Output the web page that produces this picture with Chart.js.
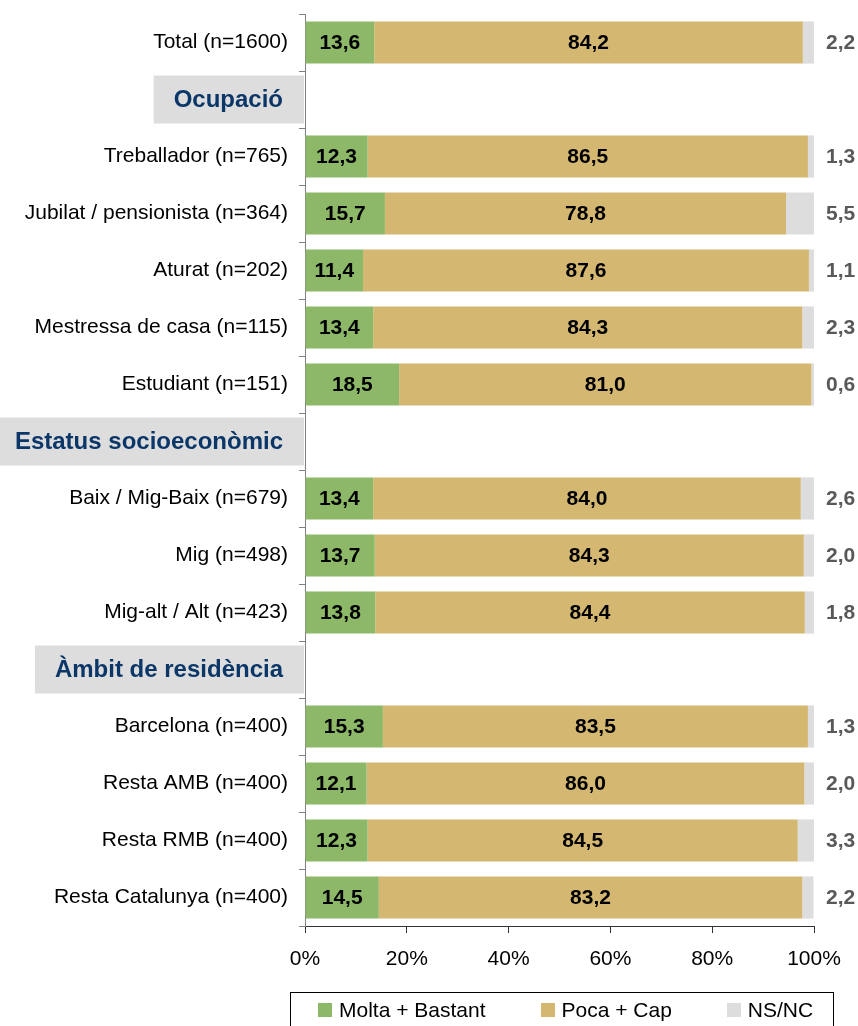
<!DOCTYPE html>
<html>
<head>
<meta charset="utf-8">
<script src="https://cdn.jsdelivr.net/npm/chart.js@4/dist/chart.umd.min.js"></script>
<style>
    body { margin: 0; background: #fff; overflow: hidden; }
    #wrap { position: relative; width: 858px; height: 1026px; }
    #legend {
        position: absolute; left: 290px; top: 992px; width: 544px; height: 40px;
        border: 1px solid #000; box-sizing: border-box;
        display: flex; align-items: center; height: 40px; padding: 0 0 4px 27px;
        font: 21px 'Liberation Sans', Arial, sans-serif; line-height: 24px; color: #000;
        white-space: nowrap;
    }
    #legend .item { display: flex; align-items: center; margin-right: 55px; flex-shrink: 0; }
    #legend .box { width: 14px; height: 14px; margin-right: 7px; flex-shrink: 0; }
</style>
</head>
<body>
<div id="wrap">
    <canvas id="chart" width="858" height="1026"></canvas>
    <div id="legend"></div>
</div>
<script>
'use strict';

/** Valoració per col·lectius */

const categories = [
    'Total (n=1600)',
    'Ocupació',
    'Treballador (n=765)',
    'Jubilat / pensionista (n=364)',
    'Aturat (n=202)',
    'Mestressa de casa (n=115)',
    'Estudiant (n=151)',
    'Estatus socioeconòmic',
    'Baix / Mig-Baix (n=679)',
    'Mig (n=498)',
    'Mig-alt / Alt (n=423)',
    'Àmbit de residència',
    'Barcelona (n=400)',
    'Resta AMB (n=400)',
    'Resta RMB (n=400)',
    'Resta Catalunya (n=400)',
];
const headerRows = [1, 7, 11];

const moltaBastant = [13.6, null, 12.3, 15.7, 11.4, 13.4, 18.5, null, 13.4, 13.7, 13.8, null, 15.3, 12.1, 12.3, 14.5];
const pocaCap = [84.2, null, 86.5, 78.8, 87.6, 84.3, 81.0, null, 84.0, 84.3, 84.4, null, 83.5, 86.0, 84.5, 83.2];
const nsnc = [2.2, null, 1.3, 5.5, 1.1, 2.3, 0.6, null, 2.6, 2.0, 1.8, null, 1.3, 2.0, 3.3, 2.2];

const seriesNames = ['Molta + Bastant', 'Poca + Cap', 'NS/NC'];
const seriesColors = ['#8cb868', '#d4b872', '#dddddd'];
const xTicks = [0, 20, 40, 60, 80, 100];

const FONT = "'Liberation Sans', Arial, sans-serif";
Chart.defaults.font.family = FONT;
Chart.defaults.font.size = 21;
Chart.defaults.color = '#000';

const fmt = (v) => v.toFixed(1).replace('.', ',');

// headers with grey box + values on the bars
const decorPlugin = {
    id: 'decor',
    afterDraw(chart) {
        const { ctx, chartArea } = chart;
        const y = chart.scales.y;
        ctx.save();
        ctx.textBaseline = 'middle';

        headerRows.forEach((i) => {
            const cy = y.getPixelForValue(i);
            ctx.font = `bold 24px ${FONT}`;
            const w = ctx.measureText(categories[i]).width;
            const right = chartArea.left - 1;
            ctx.fillStyle = '#dddddd';
            ctx.fillRect(right - w - 41, cy - 24, w + 41, 48);
            ctx.fillStyle = '#0b3668';
            ctx.textAlign = 'right';
            ctx.fillText(categories[i], right - 21, cy + 1);
        });

        ctx.font = `bold 21px ${FONT}`;
        [0, 1].forEach((d) => {
            chart.getDatasetMeta(d).data.forEach((bar, i) => {
                const v = chart.data.datasets[d].data[i];
                if (v === null) return;
                ctx.fillStyle = '#000';
                ctx.textAlign = 'center';
                ctx.fillText(fmt(v), (bar.x + bar.base) / 2, bar.y + 1);
            });
        });
        chart.getDatasetMeta(2).data.forEach((bar, i) => {
            const v = nsnc[i];
            if (v === null) return;
            ctx.fillStyle = '#595959';
            ctx.textAlign = 'left';
            ctx.fillText(fmt(v), chartArea.right + 12, bar.y + 1);
        });
        ctx.restore();
    },
};

const ctx = document.getElementById('chart').getContext('2d');
const chart = new Chart(ctx, {
    type: 'bar',
    data: {
        labels: categories,
        datasets: [moltaBastant, pocaCap, nsnc].map((data, k) => ({
            label: seriesNames[k],
            data,
            backgroundColor: seriesColors[k],
            borderWidth: 0,
            barPercentage: 0.74,
            categoryPercentage: 1,
        })),
    },
    options: {
        indexAxis: 'y',
        responsive: false,
        animation: false,
        layout: { padding: { top: 14, right: 44, bottom: 60, left: 0 } },
        plugins: { legend: { display: false }, tooltip: { enabled: false } },
        scales: {
            x: {
                stacked: true,
                min: 0,
                max: 100,
                afterBuildTicks: (s) => { s.ticks = xTicks.map((v) => ({ value: v })); },
                afterFit: (s) => { s.height = 40; s.paddingLeft = 0; s.paddingRight = 0; },
                ticks: { callback: (v) => v + '%', padding: 14, maxRotation: 0 },
                grid: { drawOnChartArea: false, tickLength: 7, color: '#333' },
                border: { color: '#333' },
            },
            y: {
                stacked: true,
                afterFit: (s) => { s.width = 305; s.paddingTop = 0; s.paddingBottom = 0; },
                ticks: {
                    padding: 11,
                    callback: (v, i) => (headerRows.includes(i) ? '' : categories[i]),
                },
                grid: { drawOnChartArea: false, offset: true, tickLength: 6, color: '#808080' },
                border: { color: '#808080' },
            },
        },
    },
    plugins: [decorPlugin],
});

// legend in HTML
const legend = document.getElementById('legend');
seriesNames.forEach((name, k) => {
    const item = document.createElement('div');
    item.className = 'item';
    item.innerHTML = `<span class="box" style="background:${seriesColors[k]}"></span><span>${name}</span>`;
    legend.appendChild(item);
});
</script>
</body>
</html>
